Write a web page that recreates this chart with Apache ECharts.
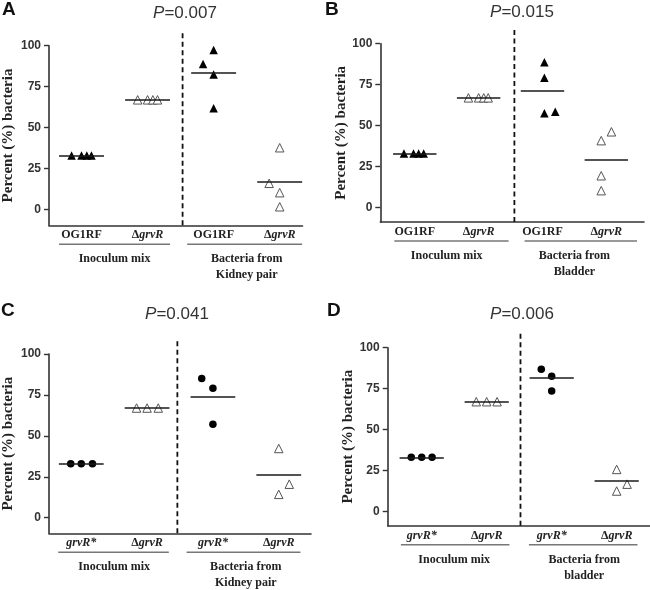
<!DOCTYPE html>
<html><head><meta charset="utf-8">
<script src="https://cdn.jsdelivr.net/npm/echarts@6/dist/echarts.min.js"></script>
<style>html,body{margin:0;padding:0;background:#fff}#c{width:650px;height:590px}</style>
</head><body><div id="c"></div>
<script>
// ---- tick labels / categories ----
const yTicks = [0, 25, 50, 75, 100];
const groupX = [1, 2, 3, 4];
const labelsAB = ['OG1RF', 'ΔgrvR', 'OG1RF', 'ΔgrvR'];
const labelsCD = ['grvR*', 'ΔgrvR', 'grvR*', 'ΔgrvR'];
const groupsA = ['Inoculum mix', 'Bacteria from\nKidney pair'];
const groupsB = ['Inoculum mix', 'Bacteria from\nBladder'];
const groupsC = ['Inoculum mix', 'Bacteria from\nKidney pair'];
const groupsD = ['Inoculum mix', 'Bacteria from\nbladder'];
const pValues = ['0.007', '0.015', '0.041', '0.006'];

// ---- Panel A values (percent) ----
const A_inocWT = [33, 33, 33, 33];
const A_inocMut = [67, 67, 67, 67];
const A_kidWT = [97.4, 88.8, 82.4, 61.8];
const A_kidMut = [37.8, 16.1, 10.4, 1.8];
const A_means = [33, 67, 83.3, 17.1];
// ---- Panel B ----
const B_inocWT = [33, 33, 33, 33];
const B_inocMut = [67, 67, 67, 67];
const B_blWT = [88.7, 79.3, 57.6, 58.5];
const B_blMut = [46.3, 40.9, 19.5, 10.4];
const B_means = [33, 67, 71.6, 29.5];
// ---- Panel C ----
const C_inocWT = [33, 33, 33];
const C_inocMut = [67, 67, 67];
const C_kidWT = [85.0, 79.1, 57.1];
const C_kidMut = [42.3, 20.5, 14.3];
const C_means = [33, 67, 73.8, 26.2];
// ---- Panel D ----
const D_inocWT = [33, 33, 33];
const D_inocMut = [67, 67, 67];
const D_blWT = [86.8, 82.5, 73.5];
const D_blMut = [25.6, 16.6, 12.4];
const D_means = [33, 67, 81.5, 18.7];

// ---- horizontal jitter of points (x offsets, in group units) ----
const A_jit = [[-0.15, 0, 0.08, 0.15], [-0.15, 0, 0.08, 0.15], [0, -0.16, 0, 0], [0, -0.16, 0, 0]];
const B_jit = [[-0.17, -0.02, 0.06, 0.14], [-0.16, 0, 0.08, 0.15], [0.03, 0.03, 0.03, 0.2], [0.08, -0.08, -0.08, -0.08]];
const C_jit = [[-0.16, 0, 0.17], [-0.16, 0, 0.17], [-0.17, 0, 0], [0, 0.16, 0]];
const D_jit = [[-0.16, 0, 0.16], [-0.16, 0, 0.16], [-0.16, 0, 0], [0, 0.16, 0]];

const SERIF = '"Liberation Serif", "Times New Roman", serif';
const SANS = '"Liberation Sans", Arial, sans-serif';

const panels = [
  {letter: 'A', grid: {left: 49, top: 45.7, width: 253.5, height: 179.6}, xMin: 0.508, xMax: 4.345, yMin: -9.5,
   labels: labelsAB, values: [A_inocWT, A_inocMut, A_kidWT, A_kidMut], jitter: A_jit, means: A_means,
   filled: 'triangle', sep: 2.53, sepTop: 109, bars: [[0.66, 2.34], [2.6, 4.34]], groups: groupsA,
   pPos: [185, 13.5], letterPos: [2, 10], nameGap: 33},
  {letter: 'B', grid: {left: 380.3, top: 43.7, width: 263.7, height: 178.3}, xMin: 0.46, xMax: 4.59, yMin: -8.7,
   labels: labelsAB, values: [B_inocWT, B_inocMut, B_blWT, B_blMut], jitter: B_jit, means: B_means,
   filled: 'triangle', sep: 2.56, sepTop: 110, bars: [[0.68, 2.47], [2.72, 4.48]], groups: groupsB,
   pPos: [522, 12.5], letterPos: [325, 10], nameGap: 29},
  {letter: 'C', grid: {left: 49, top: 354, width: 262, height: 179.3}, xMin: 0.51, xMax: 4.49, yMin: -9.5,
   labels: labelsCD, values: [C_inocWT, C_inocMut, C_kidWT, C_kidMut], jitter: C_jit, means: C_means,
   filled: 'circle', sep: 2.46, sepTop: 110, bars: [[0.65, 2.33], [2.6, 4.33]], groups: groupsC,
   pPos: [177, 314.5], letterPos: [1, 310.5], nameGap: 33},
  {letter: 'D', grid: {left: 387.7, top: 347.7, width: 261.8, height: 178}, xMin: 0.477, xMax: 4.505, yMin: -8.8,
   labels: labelsCD, values: [D_inocWT, D_inocMut, D_blWT, D_blMut], jitter: D_jit, means: D_means,
   filled: 'circle', sep: 2.52, sepTop: 110, bars: [[0.68, 2.35], [2.65, 4.32]], groups: groupsD,
   pPos: [522, 314], letterPos: [327, 310.5], nameGap: 29}
];

function fmtLabel(s) {
  if (s.charAt(0) === 'Δ') return '{n|Δ}{i|' + s.slice(1) + '}';
  if (s.indexOf('grvR') === 0) return '{i|' + s + '}';
  return '{n|' + s + '}';
}

const grids = [], xAxes = [], yAxes = [], series = [];
panels.forEach((p, i) => {
  grids.push(Object.assign({containLabel: false}, p.grid));
  xAxes.push({
    type: 'value', gridIndex: i, min: p.xMin, max: p.xMax,
    axisLine: {show: true, onZero: false, lineStyle: {color: '#333', width: 1.6}},
    axisTick: {show: false}, splitLine: {show: false},
    axisLabel: {
      show: true, customValues: groupX, margin: 4,
      formatter: (v) => { const k = groupX.indexOf(Math.round(v)); return k >= 0 ? fmtLabel(p.labels[k]) : ''; },
      rich: {
        n: {fontFamily: SERIF, fontWeight: 'bold', fontSize: 12, color: '#222'},
        i: {fontFamily: SERIF, fontWeight: 'bold', fontStyle: 'italic', fontSize: 12, color: '#222'}
      }
    }
  });
  yAxes.push({
    type: 'value', gridIndex: i, min: p.yMin, max: 100,
    axisLine: {show: true, onZero: false, lineStyle: {color: '#333', width: 1.6}},
    axisTick: {show: true, customValues: yTicks, length: 5, lineStyle: {color: '#333', width: 1.4}},
    axisLabel: {show: true, customValues: yTicks, margin: 8, fontFamily: SANS, fontWeight: 'bold', fontSize: 12, color: '#333'},
    splitLine: {show: false},
    name: 'Percent (%) bacteria', nameLocation: 'middle', nameGap: p.nameGap,
    nameTextStyle: {fontFamily: SERIF, fontWeight: 'bold', fontSize: 15, color: '#222'}
  });
  p.values.forEach((vals, g) => {
    const filled = (g % 2 === 0);
    series.push({
      type: 'scatter', xAxisIndex: i, yAxisIndex: i,
      data: vals.map((v, k) => [groupX[g] + p.jitter[g][k], v]),
      symbol: filled ? p.filled : 'triangle',
      symbolSize: filled ? (p.filled === 'circle' ? 7.5 : 8.5) : 8.5,
      itemStyle: filled ? {color: '#000', opacity: 1} : {color: '#fff', borderColor: '#555', borderWidth: 1, opacity: 1},
      emphasis: {disabled: true}, z: 3,
      markLine: {
        silent: true, symbol: ['none', 'none'], label: {show: false}, animation: false,
        lineStyle: {color: '#1a1a1a', width: 1.7, type: 'solid', opacity: 1},
        emphasis: {disabled: true},
        data: [[{coord: [groupX[g] - 0.34, p.means[g]]}, {coord: [groupX[g] + 0.34, p.means[g]]}]]
      }
    });
  });
});

const chart = echarts.init(document.getElementById('c'), null, {renderer: 'canvas'});
chart.setOption({
  animation: false, backgroundColor: '#fff',
  grid: grids, xAxis: xAxes, yAxis: yAxes, series: series
});

// Decorations: separators, underline bars, group titles, P-values, letters
const graphics = [];
panels.forEach((p, i) => {
  const px = (x, y) => chart.convertToPixel({gridIndex: i}, [x, y]);
  const axisY = px(1, p.yMin)[1];
  const s0 = px(p.sep, p.yMin), s1 = px(p.sep, p.sepTop);
  graphics.push({type: 'line', shape: {x1: s0[0], y1: s0[1], x2: s1[0], y2: s1[1]},
    style: {stroke: '#111', lineWidth: 1.8, lineDash: [5, 3.5]}, z: 1});
  p.bars.forEach((b, j) => {
    const a = px(b[0], 0)[0], c = px(b[1], 0)[0];
    graphics.push({type: 'line', shape: {x1: a, y1: axisY + 19, x2: c, y2: axisY + 19},
      style: {stroke: '#777', lineWidth: 1.5}});
    const cx = px(j === 0 ? 1.5 : 3.5, 0)[0];
    graphics.push({type: 'text', x: cx, y: axisY + 26,
      style: {text: p.groups[j], font: 'bold 12px ' + SERIF, fill: '#222', align: 'center', verticalAlign: 'top', lineHeight: 16}});
  });
  graphics.push({type: 'text', x: p.pPos[0], y: p.pPos[1],
    style: {text: '{i|P}{n|=' + pValues[i] + '}', align: 'center', verticalAlign: 'middle',
      rich: {i: {fontFamily: SANS, fontStyle: 'italic', fontSize: 17, fill: '#333'}, n: {fontFamily: SANS, fontSize: 17, fill: '#333'}}}});
  graphics.push({type: 'text', x: p.letterPos[0], y: p.letterPos[1],
    style: {text: p.letter, font: 'bold 19px ' + SANS, fill: '#111', align: 'left', verticalAlign: 'middle'}});
});
chart.setOption({graphic: graphics});
</script>
</body></html>
